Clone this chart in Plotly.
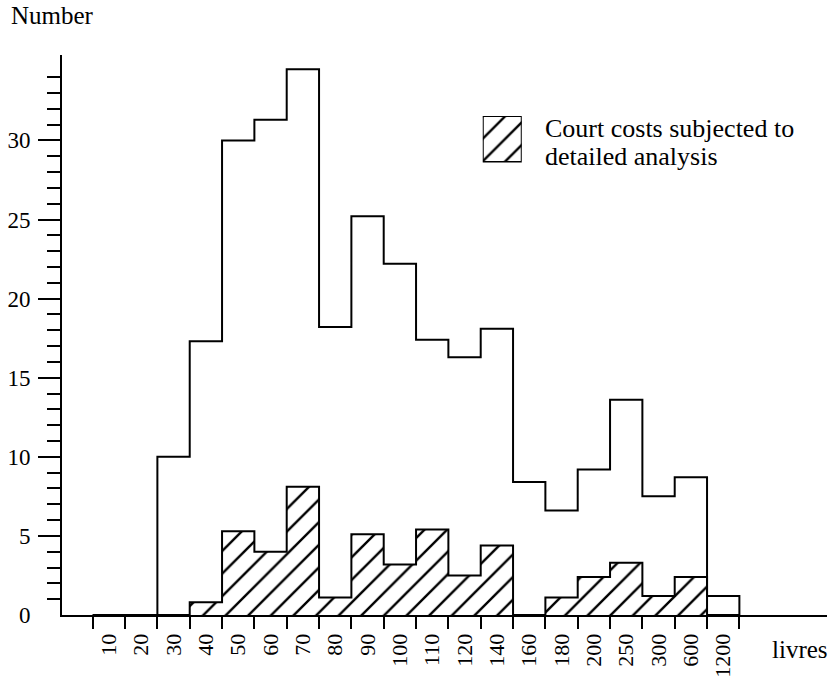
import plotly.graph_objects as go

# ---- data ----
bin_labels = ["10", "20", "30", "40", "50", "60", "70", "80", "90", "100",
              "110", "120", "140", "160", "180", "200", "250", "300", "600", "1200"]
all_costs = [0, 0, 10.0, 17.3, 30.0, 31.3, 34.5, 18.2, 25.2, 22.2,
             17.4, 16.3, 18.1, 8.4, 6.6, 9.2, 13.6, 7.5, 8.7, 1.2]
analysed_costs = [0, 0, 0, 0.8, 5.3, 4.0, 8.1, 1.1, 5.1, 3.2,
                  5.4, 2.5, 4.4, 0, 1.1, 2.4, 3.3, 1.2, 2.4, 0]
y_major = [0, 5, 10, 15, 20, 25, 30]
legend_line1 = "Court costs subjected to"
legend_line2 = "detailed analysis"

FONT = "Liberation Serif"
n = len(bin_labels)
centers = [i + 0.5 for i in range(n)]
edges = list(range(n + 1))

def step_xy(vals):
    xs = list(edges[:-1]) + [edges[-1]]
    ys = list(vals) + [0]
    return xs, ys

hatch = dict(shape="/", fgcolor="black", fgopacity=1, bgcolor="white", size=16, solidity=0.15)

fig = go.Figure()

# hatched bars (analysed)
fig.add_trace(go.Bar(
    x=centers, y=analysed_costs, width=1,
    marker=dict(color="white", line=dict(width=0), pattern=hatch),
    showlegend=False, hoverinfo="skip"))

sx, sy = step_xy(analysed_costs)
fig.add_trace(go.Scatter(x=sx, y=sy, mode="lines", line=dict(shape="hv", color="black", width=2),
                         showlegend=False, hoverinfo="skip"))
sx, sy = step_xy(all_costs)
fig.add_trace(go.Scatter(x=sx, y=sy, mode="lines", line=dict(shape="hv", color="black", width=2),
                         showlegend=False, hoverinfo="skip"))

# legend key (one hatched bar on its own small axes)
fig.add_trace(go.Bar(
    x=[0], y=[1], width=1, xaxis="x2", yaxis="y3",
    marker=dict(color="white", line=dict(width=2, color="black"), pattern=hatch),
    showlegend=False, hoverinfo="skip"))

# major y ticks (no tick at 0) on an overlaid axis
fig.add_trace(go.Scatter(x=[None], y=[None], yaxis="y2", showlegend=False, hoverinfo="skip"))

y_top = 35.4
fig.update_layout(
    width=830, height=681,
    margin=dict(l=62, r=3, t=55, b=66, autoexpand=False),
    plot_bgcolor="white", paper_bgcolor="white",
    font=dict(family=FONT, size=23, color="black"),
    bargap=0,
    xaxis=dict(
        range=[-0.95, 22.71], showline=True, linecolor="black", linewidth=2,
        tickmode="array", tickvals=centers, ticktext=bin_labels, ticks="",
        tickangle=-90, ticklabelstandoff=8, showgrid=False, zeroline=False,
        automargin=False,
        minor=dict(tickmode="array", tickvals=edges, ticks="outside", ticklen=12,
                   tickwidth=2, tickcolor="black", showgrid=False),
        tickfont=dict(family=FONT, size=22),
    ),
    yaxis=dict(
        range=[0, y_top], showline=True, linecolor="black", linewidth=2,
        tickmode="array", tickvals=y_major, ticks="", ticklabelstandoff=25,
        showgrid=False, zeroline=False, automargin=False,
        minor=dict(tickmode="array", tickvals=list(range(1, 35)), ticks="outside",
                   ticklen=13, tickwidth=2, tickcolor="black", showgrid=False),
        tickfont=dict(family=FONT, size=23),
    ),
    yaxis2=dict(
        range=[0, y_top], overlaying="y", anchor="x", side="left",
        tickmode="array", tickvals=y_major[1:], ticks="outside", ticklen=23,
        tickwidth=2, tickcolor="black", showticklabels=False, automargin=False,
        showgrid=False, zeroline=False, showline=False,
    ),
    xaxis2=dict(domain=[0.550, 0.601], range=[-0.5, 0.5], anchor="y3",
                visible=False, fixedrange=True),
    yaxis3=dict(domain=[0.808, 0.891], range=[0, 1], anchor="x2",
                visible=False, fixedrange=True),
    annotations=[
        dict(text="Number", xref="paper", yref="paper", x=-0.069, y=1.07,
             xanchor="left", yanchor="middle", showarrow=False,
             font=dict(family=FONT, size=25)),
        dict(text="livres", xref="paper", yref="paper", x=0.926, y=-0.062,
             xanchor="left", yanchor="middle", showarrow=False,
             font=dict(family=FONT, size=25)),
        dict(text=legend_line1, xref="paper", yref="paper", x=0.629, y=0.869,
             xanchor="left", yanchor="middle", align="left", showarrow=False,
             font=dict(family=FONT, size=26)),
        dict(text=legend_line2, xref="paper", yref="paper", x=0.629, y=0.819,
             xanchor="left", yanchor="middle", align="left", showarrow=False,
             font=dict(family=FONT, size=26)),
    ],
)

# remove the browser's default 8px body margin so the figure fills the window exactly
fig.write_html("out.html",
               config={"displayModeBar": False},
               post_script="document.body.style.margin='0';document.body.style.overflow='hidden';")
